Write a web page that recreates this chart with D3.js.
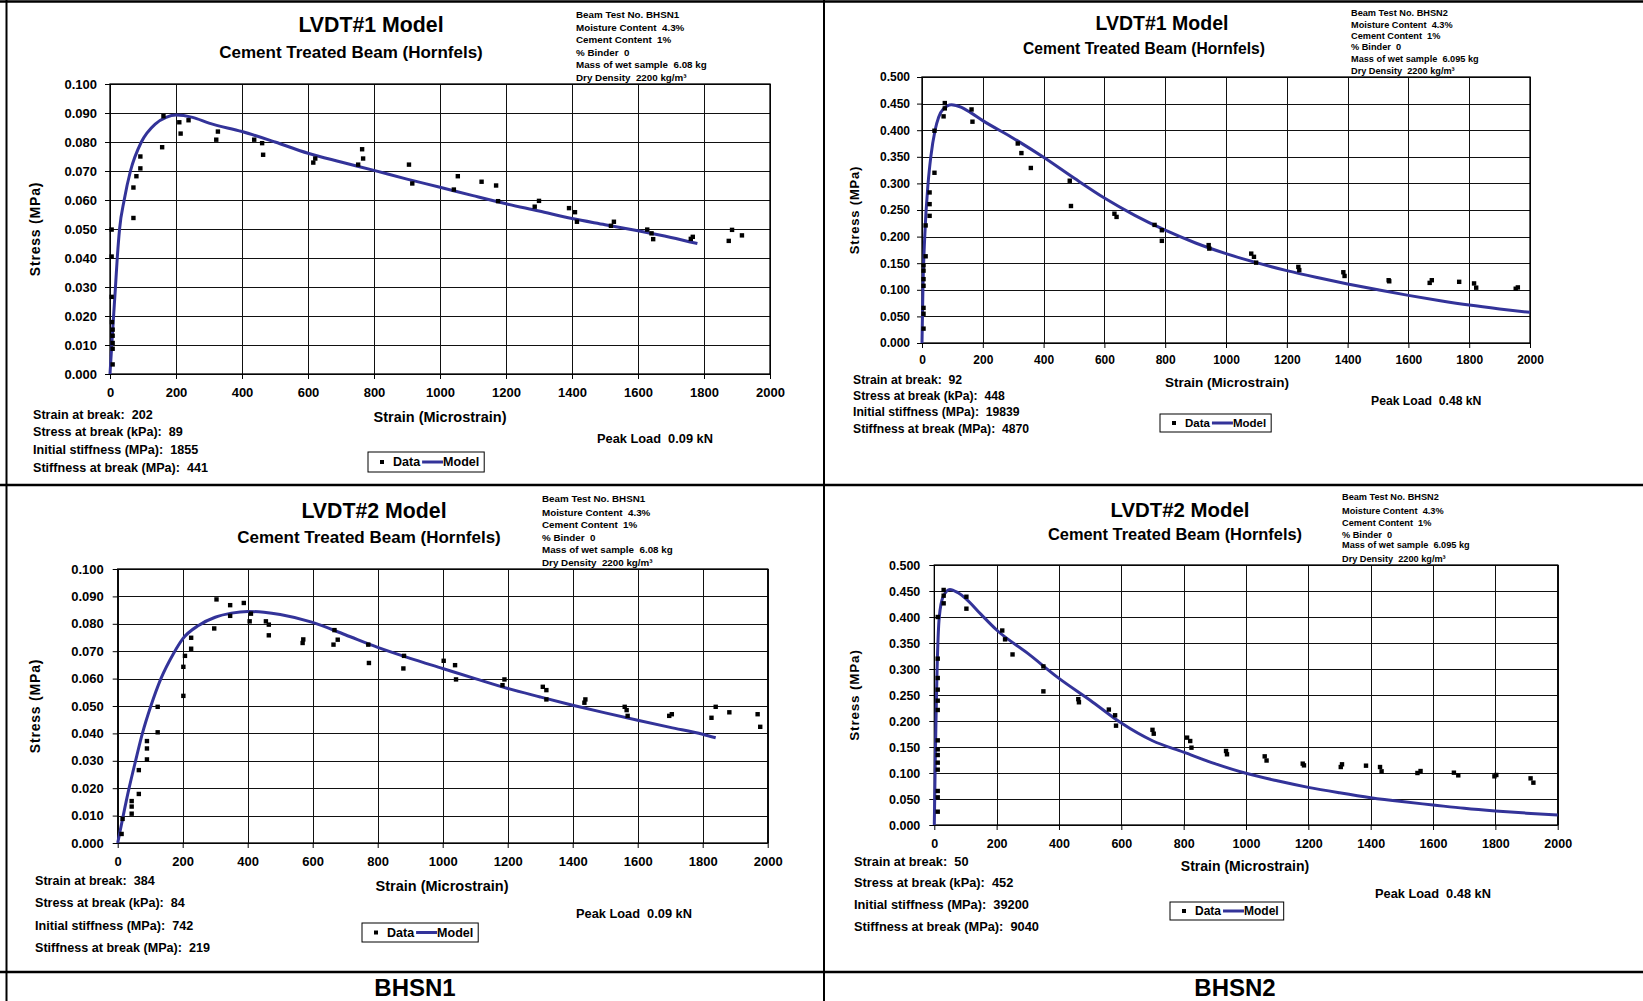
<!DOCTYPE html>
<html>
<head>
<meta charset="utf-8">
<script src="https://cdn.jsdelivr.net/npm/d3@7/dist/d3.min.js"></script>
<style>
  body { margin: 0; background: #fff; }
  svg { display: block; font-family: "Liberation Sans", Arial, sans-serif; font-weight: bold; }
  text { white-space: pre; }
</style>
</head>
<body>
<div id="dataviz"></div>
<script>
// axis ticks
const xTickValues = [0, 200, 400, 600, 800, 1000, 1200, 1400, 1600, 1800, 2000];
const yTicksSmall = [0, 0.01, 0.02, 0.03, 0.04, 0.05, 0.06, 0.07, 0.08, 0.09, 0.1];
const yTicksLarge = [0, 0.05, 0.1, 0.15, 0.2, 0.25, 0.3, 0.35, 0.4, 0.45, 0.5];

// [strain (microstrain), stress (MPa)]
const bhsn1L1Data = [[8, 0.0033], [8, 0.0087], [8, 0.0107], [8, 0.0132], [8, 0.0153], [6, 0.0179], [5, 0.0266], [5, 0.0405], [5, 0.0498],
  [71, 0.0538], [71, 0.0643], [80, 0.0682], [92, 0.0709], [92, 0.0750], [158, 0.0782], [162, 0.0889], [210, 0.0868], [214, 0.0829],
  [238, 0.0875], [322, 0.0808], [327, 0.0836], [437, 0.0808], [461, 0.0796], [464, 0.0756], [616, 0.0729], [622, 0.0743], [752, 0.0722],
  [764, 0.0775], [767, 0.0743], [906, 0.0722], [916, 0.0657], [1042, 0.0636], [1054, 0.0682], [1126, 0.0663], [1170, 0.0650], [1176, 0.0596],
  [1287, 0.0577], [1300, 0.0597], [1391, 0.0572], [1409, 0.0558], [1415, 0.0525], [1518, 0.0511], [1527, 0.0525], [1628, 0.0498],
  [1641, 0.0485], [1646, 0.0465], [1760, 0.0466], [1766, 0.0473], [1875, 0.0459], [1885, 0.0497], [1915, 0.0478]];
const bhsn1L1Model = [[0, 0], [5, 0.0093], [10, 0.0185], [16, 0.029], [22, 0.040], [29, 0.050], [43, 0.060], [62, 0.070], [95, 0.080],
  [137, 0.0862], [170, 0.0885], [200, 0.0893], [250, 0.0885], [300, 0.0865], [400, 0.0836], [500, 0.0800], [600, 0.0761], [700, 0.0731],
  [800, 0.0702], [900, 0.0672], [1000, 0.0644], [1100, 0.0615], [1200, 0.0587], [1300, 0.0562], [1400, 0.0536], [1500, 0.0515],
  [1600, 0.0494], [1700, 0.0471], [1780, 0.0450]];

const bhsn2L1Data = [[5, 0.027], [5, 0.055], [5, 0.066], [5, 0.1075], [5, 0.120], [5, 0.136], [5, 0.146], [12, 0.163], [12, 0.221],
  [25, 0.239], [25, 0.261], [25, 0.283], [41, 0.320], [41, 0.399], [71, 0.426], [75, 0.441], [75, 0.451], [163, 0.439], [166, 0.416],
  [315, 0.375], [327, 0.357], [358, 0.329], [486, 0.305], [490, 0.2575], [633, 0.243], [640, 0.237], [765, 0.222], [789, 0.212],
  [789, 0.192], [943, 0.184], [945, 0.1775], [1083, 0.168], [1092, 0.162], [1099, 0.151], [1238, 0.143], [1241, 0.137], [1386, 0.133],
  [1390, 0.126], [1535, 0.118], [1537, 0.116], [1670, 0.113], [1677, 0.118], [1767, 0.115], [1816, 0.112], [1823, 0.104],
  [1953, 0.102], [1960, 0.1045]];
const bhsn2L1Model = [[0, 0], [3, 0.100], [9, 0.200], [20, 0.300], [29, 0.350], [43, 0.400], [55, 0.425], [70, 0.440], [97, 0.448],
  [130, 0.443], [160, 0.433], [200, 0.418], [300, 0.385], [400, 0.349], [500, 0.310], [600, 0.2725], [700, 0.240], [800, 0.212],
  [900, 0.188], [1000, 0.168], [1100, 0.151], [1200, 0.136], [1300, 0.123], [1400, 0.111], [1500, 0.100], [1600, 0.0895],
  [1700, 0.080], [1800, 0.0713], [1900, 0.064], [2000, 0.0576]];

const bhsn1L2Data = [[12, 0.0033], [15, 0.0088], [43, 0.0107], [43, 0.0133], [43, 0.0153], [65, 0.0179], [65, 0.0266], [90, 0.0305],
  [90, 0.0345], [90, 0.0372], [123, 0.0404], [123, 0.0497], [202, 0.0537], [202, 0.0643], [207, 0.0683], [226, 0.0709], [226, 0.0749],
  [297, 0.0783], [304, 0.0889], [346, 0.0868], [346, 0.0829], [388, 0.0876], [406, 0.0809], [410, 0.0837], [456, 0.0809], [465, 0.0797],
  [465, 0.0758], [569, 0.0730], [571, 0.0743], [664, 0.0724], [667, 0.0777], [677, 0.0742], [771, 0.0724], [773, 0.0657], [879, 0.0637],
  [881, 0.0683], [1003, 0.0665], [1038, 0.0649], [1041, 0.0597], [1184, 0.0576], [1190, 0.0597], [1308, 0.0570], [1319, 0.0558],
  [1319, 0.0524], [1436, 0.0512], [1439, 0.0524], [1560, 0.0497], [1566, 0.0485], [1569, 0.0464], [1697, 0.0464], [1705, 0.0470],
  [1827, 0.0457], [1840, 0.0497], [1882, 0.0477], [1969, 0.0470], [1977, 0.0424]];
const bhsn1L2Model = [[0, 0], [17, 0.010], [35, 0.020], [55, 0.030], [76, 0.040], [102, 0.050], [133, 0.060], [171, 0.069], [200, 0.0745],
  [250, 0.0795], [300, 0.0824], [350, 0.0839], [400, 0.0845], [450, 0.0842], [500, 0.0834], [600, 0.0805], [700, 0.0760], [800, 0.0714],
  [900, 0.0674], [1000, 0.0637], [1100, 0.0600], [1200, 0.0564], [1300, 0.0533], [1400, 0.0503], [1500, 0.0475], [1600, 0.0448],
  [1700, 0.0422], [1800, 0.0397], [1840, 0.0384]];

const bhsn2L2Data = [[11, 0.0256], [11, 0.0532], [11, 0.0654], [11, 0.1064], [11, 0.1199], [11, 0.1346], [11, 0.1455], [11, 0.1628],
  [11, 0.2212], [11, 0.2391], [11, 0.2603], [11, 0.2827], [11, 0.3199], [11, 0.400], [30, 0.4263], [30, 0.441], [30, 0.452],
  [103, 0.439], [103, 0.416], [218, 0.374], [227, 0.357], [251, 0.328], [350, 0.305], [350, 0.257], [462, 0.242], [464, 0.236],
  [560, 0.222], [580, 0.211], [583, 0.191], [700, 0.183], [704, 0.1756], [811, 0.168], [821, 0.1615], [825, 0.1487], [936, 0.1423],
  [939, 0.136], [1060, 0.132], [1066, 0.124], [1182, 0.118], [1186, 0.1147], [1304, 0.1115], [1308, 0.1167], [1385, 0.1141],
  [1430, 0.1115], [1435, 0.1032], [1550, 0.100], [1560, 0.1038], [1667, 0.1006], [1681, 0.0955], [1797, 0.0936], [1803, 0.0962],
  [1913, 0.0897], [1922, 0.0814]];
const bhsn2L2Model = [[0, 0], [3, 0.120], [6, 0.220], [9, 0.300], [16, 0.400], [29, 0.440], [50, 0.453], [75, 0.447], [100, 0.436],
  [150, 0.405], [200, 0.375], [300, 0.330], [400, 0.282], [500, 0.240], [600, 0.196], [700, 0.162], [800, 0.140], [900, 0.118],
  [1000, 0.0994], [1100, 0.085], [1200, 0.0724], [1300, 0.062], [1400, 0.0526], [1500, 0.045], [1600, 0.0385], [1700, 0.032],
  [1800, 0.0269], [1900, 0.0228], [2000, 0.0192]];

// texts
const infoBhsn1 = ['Beam Test No. BHSN1', 'Moisture Content  4.3%', 'Cement Content  1%', '% Binder  0', 'Mass of wet sample  6.08 kg', 'Dry Density  2200 kg/m³'];
const infoBhsn2 = ['Beam Test No. BHSN2', 'Moisture Content  4.3%', 'Cement Content  1%', '% Binder  0', 'Mass of wet sample  6.095 kg', 'Dry Density  2200 kg/m³'];
const statLabels = ['Strain at break:', 'Stress at break (kPa):', 'Initial stiffness (MPa):', 'Stiffness at break (MPa):'];
const statsB1L1 = [202, 89, 1855, 441];
const statsB2L1 = [92, 448, 19839, 4870];
const statsB1L2 = [384, 84, 742, 219];
const statsB2L2 = [50, 452, 39200, 9040];
const peakLoads = ['0.09', '0.48', '0.09', '0.48'];
const captions = ['BHSN1', 'BHSN2'];

const width = 1643,
height = 1001;

const svg = d3.select('#dataviz').
append('svg').
attr('width', width).
attr('height', height);

const panels = [
{ title: 'LVDT#1 Model', data: bhsn1L1Data, model: bhsn1L1Model, info: infoBhsn1, stats: statsB1L1, peak: peakLoads[0],
  yMax: 0.1, yTicks: yTicksSmall, left: 110, right: 770, top: 84, bottom: 374, tickFont: 13, xPad: 9, yPad: 8,
  titleX: 371, titleY: 25, titleSize: 21.3, subX: 351, subY: 52, subSize: 17,
  infoX: 576, infoY: [14, 27, 39, 52, 64, 77], infoSize: 9.8,
  yTitleX: 35, yTitleY: 229, xTitleX: 440, xTitleY: 417, axisTitleSize: 14.5,
  statX: 33, statY: [415, 432, 450, 468], statSize: 12.6, peakX: 597, peakY: 438, peakSize: 12.8,
  legX: 368, legY: 452, legH: 20, legSize: 12.5 },
{ title: 'LVDT#1 Model', data: bhsn2L1Data, model: bhsn2L1Model, info: infoBhsn2, stats: statsB2L1, peak: peakLoads[1],
  yMax: 0.5, yTicks: yTicksLarge, left: 922, right: 1530, top: 77, bottom: 343, tickFont: 12, xPad: 7, yPad: 7,
  titleX: 1162, titleY: 23, titleSize: 19.5, subX: 1144, subY: 48, subSize: 15.6,
  infoX: 1351, infoY: [13, 25, 36, 47, 59, 71], infoSize: 9.2,
  yTitleX: 854, yTitleY: 210, xTitleX: 1227, xTitleY: 382, axisTitleSize: 13.5,
  statX: 853, statY: [380, 396, 412, 429], statSize: 12.2, peakX: 1371, peakY: 401, peakSize: 12.2,
  legX: 1160, legY: 414, legH: 18, legSize: 11.5 },
{ title: 'LVDT#2 Model', data: bhsn1L2Data, model: bhsn1L2Model, info: infoBhsn1, stats: statsB1L2, peak: peakLoads[2],
  yMax: 0.1, yTicks: yTicksSmall, left: 117.7, right: 767.7, top: 569, bottom: 843, tickFont: 13, xPad: 9, yPad: 9,
  titleX: 374, titleY: 511, titleSize: 21.3, subX: 369, subY: 537, subSize: 17,
  infoX: 542, infoY: [498, 512, 524, 537, 549, 562], infoSize: 9.8,
  yTitleX: 35, yTitleY: 706, xTitleX: 442, xTitleY: 886, axisTitleSize: 14.5,
  statX: 35, statY: [881, 903, 926, 948], statSize: 12.6, peakX: 576, peakY: 913, peakSize: 12.8,
  legX: 362, legY: 923, legH: 19, legSize: 12.5 },
{ title: 'LVDT#2 Model', data: bhsn2L2Data, model: bhsn2L2Model, info: infoBhsn2, stats: statsB2L2, peak: peakLoads[3],
  yMax: 0.5, yTicks: yTicksLarge, left: 934.3, right: 1557.7, top: 565, bottom: 825, tickFont: 12.5, xPad: 9, yPad: 9,
  titleX: 1180, titleY: 510, titleSize: 20.4, subX: 1175, subY: 534, subSize: 16.4,
  infoX: 1342, infoY: [497, 511, 523, 535, 545, 559], infoSize: 9.2,
  yTitleX: 854, yTitleY: 695, xTitleX: 1245, xTitleY: 866, axisTitleSize: 14,
  statX: 854, statY: [861, 882, 904, 926], statSize: 12.8, peakX: 1375, peakY: 893, peakSize: 12.8,
  legX: 1170, legY: 902, legH: 18, legSize: 12 }];


const drawPanel = p => {
  const g = svg.append('g');

  const x = d3.scaleLinear().domain([0, 2000]).range([p.left, p.right]);
  const y = d3.scaleLinear().domain([0, p.yMax]).range([p.bottom, p.top]);

  // grid
  g.append('g').selectAll('line').
  data(xTickValues).
  enter().
  append('line').
  attr('x1', d => Math.round(x(d)) + 0.5).
  attr('x2', d => Math.round(x(d)) + 0.5).
  attr('y1', p.top).
  attr('y2', p.bottom).
  attr('stroke', '#111').
  attr('stroke-width', 1);

  g.append('g').selectAll('line').
  data(p.yTicks).
  enter().
  append('line').
  attr('x1', p.left).
  attr('x2', p.right).
  attr('y1', d => Math.round(y(d)) + 0.5).
  attr('y2', d => Math.round(y(d)) + 0.5).
  attr('stroke', '#111').
  attr('stroke-width', 1);

  g.append('rect').
  attr('x', x(0)).
  attr('y', y(p.yMax)).
  attr('width', x(2000) - x(0)).
  attr('height', y(0) - y(p.yMax)).
  attr('fill', 'none').
  attr('stroke', '#000').
  attr('stroke-width', 1.3);

  // axes
  const xAxis = g.append('g').
  attr('transform', `translate(0,${p.bottom})`).
  call(d3.axisBottom(x).
  tickValues(xTickValues).
  tickSize(5).
  tickSizeOuter(0).
  tickPadding(p.xPad).
  tickFormat(d3.format('d')));
  xAxis.select('.domain').remove();
  xAxis.attr('font-family', null).attr('font-size', p.tickFont);

  const yAxis = g.append('g').
  attr('transform', `translate(${p.left},0)`).
  call(d3.axisLeft(y).
  tickValues(p.yTicks).
  tickSize(5).
  tickSizeOuter(0).
  tickPadding(p.yPad).
  tickFormat(d3.format('.3f')));
  yAxis.select('.domain').remove();
  yAxis.attr('font-family', null).attr('font-size', p.tickFont);

  // model curve
  const line = d3.line().
  x(d => x(d[0])).
  y(d => y(d[1])).
  curve(d3.curveMonotoneX);

  g.append('path').
  datum(p.model).
  attr('d', line).
  attr('fill', 'none').
  attr('stroke', '#333399').
  attr('stroke-width', 3);

  // data points
  g.append('g').selectAll('rect').
  data(p.data).
  enter().
  append('rect').
  attr('x', d => x(d[0]) - 2.2).
  attr('y', d => y(d[1]) - 2.2).
  attr('width', 4.4).
  attr('height', 4.4).
  attr('fill', '#000');

  // titles
  g.append('text').
  attr('x', p.titleX).
  attr('y', p.titleY).
  attr('text-anchor', 'middle').
  attr('dominant-baseline', 'central').
  style('font-size', p.titleSize + 'px').
  text(p.title);

  g.append('text').
  attr('x', p.subX).
  attr('y', p.subY).
  attr('text-anchor', 'middle').
  attr('dominant-baseline', 'central').
  style('font-size', p.subSize + 'px').
  text('Cement Treated Beam (Hornfels)');

  g.append('g').selectAll('text').
  data(p.info).
  enter().
  append('text').
  attr('x', p.infoX).
  attr('y', (d, i) => p.infoY[i]).
  attr('dominant-baseline', 'central').
  style('font-size', p.infoSize + 'px').
  text(d => d);

  g.append('text').
  attr('transform', `translate(${p.yTitleX},${p.yTitleY}) rotate(-90)`).
  attr('text-anchor', 'middle').
  attr('dominant-baseline', 'central').
  style('font-size', (p.axisTitleSize - 0.5) + 'px').
  style('letter-spacing', '0.8px').
  text('Stress (MPa)');

  g.append('text').
  attr('x', p.xTitleX).
  attr('y', p.xTitleY).
  attr('text-anchor', 'middle').
  attr('dominant-baseline', 'central').
  style('font-size', p.axisTitleSize + 'px').
  text('Strain (Microstrain)');

  g.append('g').selectAll('text').
  data(p.stats).
  enter().
  append('text').
  attr('x', p.statX).
  attr('y', (d, i) => p.statY[i]).
  attr('dominant-baseline', 'central').
  style('font-size', p.statSize + 'px').
  text((d, i) => statLabels[i] + '  ' + d);

  g.append('text').
  attr('x', p.peakX).
  attr('y', p.peakY).
  attr('dominant-baseline', 'central').
  style('font-size', p.peakSize + 'px').
  text('Peak Load  ' + p.peak + ' kN');

  // legend
  const leg = g.append('g').attr('transform', `translate(${p.legX},${p.legY})`);
  const box = leg.append('rect').
  attr('height', p.legH).
  attr('fill', '#fff').
  attr('stroke', '#000').
  attr('stroke-width', 1);
  const cy = p.legH / 2;
  leg.append('rect').
  attr('x', 12).
  attr('y', cy - 2).
  attr('width', 4).
  attr('height', 4).
  attr('fill', '#000');
  const dataText = leg.append('text').
  attr('x', 25).
  attr('y', cy).
  attr('dominant-baseline', 'central').
  style('font-size', p.legSize + 'px').
  text('Data');
  const lx = 25 + dataText.node().getComputedTextLength() + 2;
  leg.append('line').
  attr('x1', lx).
  attr('x2', lx + 21).
  attr('y1', cy).
  attr('y2', cy).
  attr('stroke', '#333399').
  attr('stroke-width', 3);
  const modelText = leg.append('text').
  attr('x', lx + 21).
  attr('y', cy).
  attr('dominant-baseline', 'central').
  style('font-size', p.legSize + 'px').
  text('Model');
  box.attr('width', lx + 21 + modelText.node().getComputedTextLength() + 5);
};

panels.forEach(drawPanel);

// frame
const frame = svg.append('g').attr('stroke', '#000');
frame.append('line').attr('x1', 0).attr('x2', width).attr('y1', 1.5).attr('y2', 1.5).attr('stroke-width', 2.5);
frame.append('line').attr('x1', 6.5).attr('x2', 6.5).attr('y1', 0).attr('y2', height).attr('stroke-width', 2);
frame.append('line').attr('x1', 824).attr('x2', 824).attr('y1', 0).attr('y2', height).attr('stroke-width', 2);
frame.append('line').attr('x1', 0).attr('x2', width).attr('y1', 485).attr('y2', 485).attr('stroke-width', 2.5);
frame.append('line').attr('x1', 0).attr('x2', width).attr('y1', 972).attr('y2', 972).attr('stroke-width', 2.5);

svg.append('g').selectAll('text').
data(captions).
enter().
append('text').
attr('x', (d, i) => i === 0 ? 415 : 1235).
attr('y', 987).
attr('text-anchor', 'middle').
attr('dominant-baseline', 'central').
style('font-size', '24px').
text(d => d);
</script>
</body>
</html>
